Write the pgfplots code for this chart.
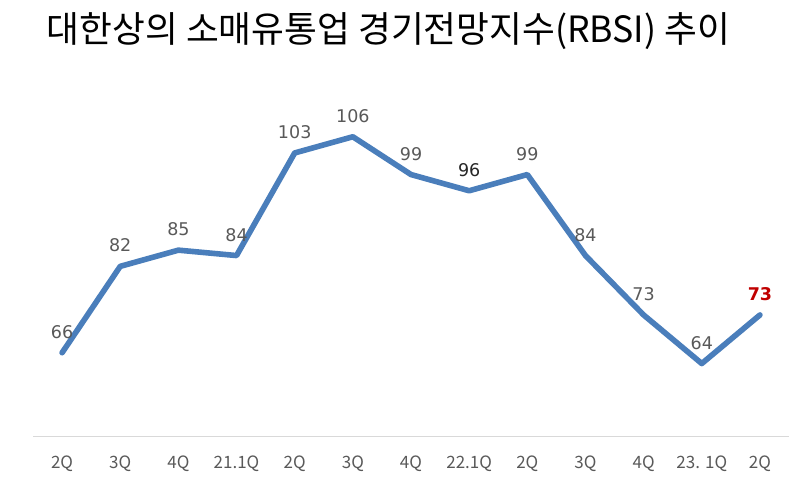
\documentclass[border=0pt]{standalone}
\usepackage{pgfplots}
\pgfplotsset{compat=1.18}
\usepackage{fontspec}
\setmainfont{DejaVu Sans}
\newfontfamily\cjk{Noto Sans CJK KR}
\definecolor{lineblue}{HTML}{4A7EBB}
\definecolor{labgray}{HTML}{595959}
\definecolor{axgray}{HTML}{D9D9D9}
\definecolor{darkred}{HTML}{C00000}
\begin{document}
\begin{tikzpicture}[x=1pt,y=1pt]
\path[use as bounding box] (0,0) rectangle (800,486);
\node[inner sep=0pt] at (388.5,455) {\resizebox*{683pt}{37pt}{\cjk 대한상의 소매유통업 경기전망지수(RBSI) 추이}};
\begin{axis}[
  at={(33pt,49pt)}, anchor=south west,
  scale only axis, width=756pt, height=337.5pt,
  xmin=-0.5, xmax=12.5, ymin=50.4, ymax=112.9,
  axis x line=bottom, axis y line=none,
  axis line style={-, draw=axgray, line width=1pt},
  xtick={0,...,12},
  xticklabels={2Q,3Q,4Q,21.1Q,2Q,3Q,4Q,22.1Q,2Q,3Q,4Q,23. 1Q,2Q},
  xticklabel style={font=\cjk\fontsize{17}{17}\selectfont, text=labgray, anchor=base, yshift=-31.5pt},
  major tick length=0pt,
  ytick=\empty,
  clip=false,
  /pgf/number format/assume math mode=true,
  every node near coord/.append style={anchor=base, yshift=14.5pt, inner sep=0pt, font=\fontsize{17.5}{17.5}\selectfont},
]
\addplot[lineblue, line width=5.6pt, line join=round, line cap=round] coordinates {
(0,66) (1,82) (2,85) (3,84) (4,103) (5,106) (6,99) (7,96) (8,99) (9,84) (10,73) (11,64) (12,73)};
\addplot[draw=none, mark=none, nodes near coords, every node near coord/.append style={text=labgray}] coordinates {
(0,66) (1,82) (2,85) (3,84) (4,103) (5,106) (6,99) (8,99) (9,84) (10,73) (11,64)};
\addplot[draw=none, mark=none, nodes near coords, every node near coord/.append style={text=black!85}] coordinates {(7,96)};
\addplot[draw=none, mark=none, nodes near coords, every node near coord/.append style={text=darkred, font=\bfseries\fontsize{17.5}{17.5}\selectfont}] coordinates {(12,73)};
\end{axis}
\end{tikzpicture}
\end{document}
